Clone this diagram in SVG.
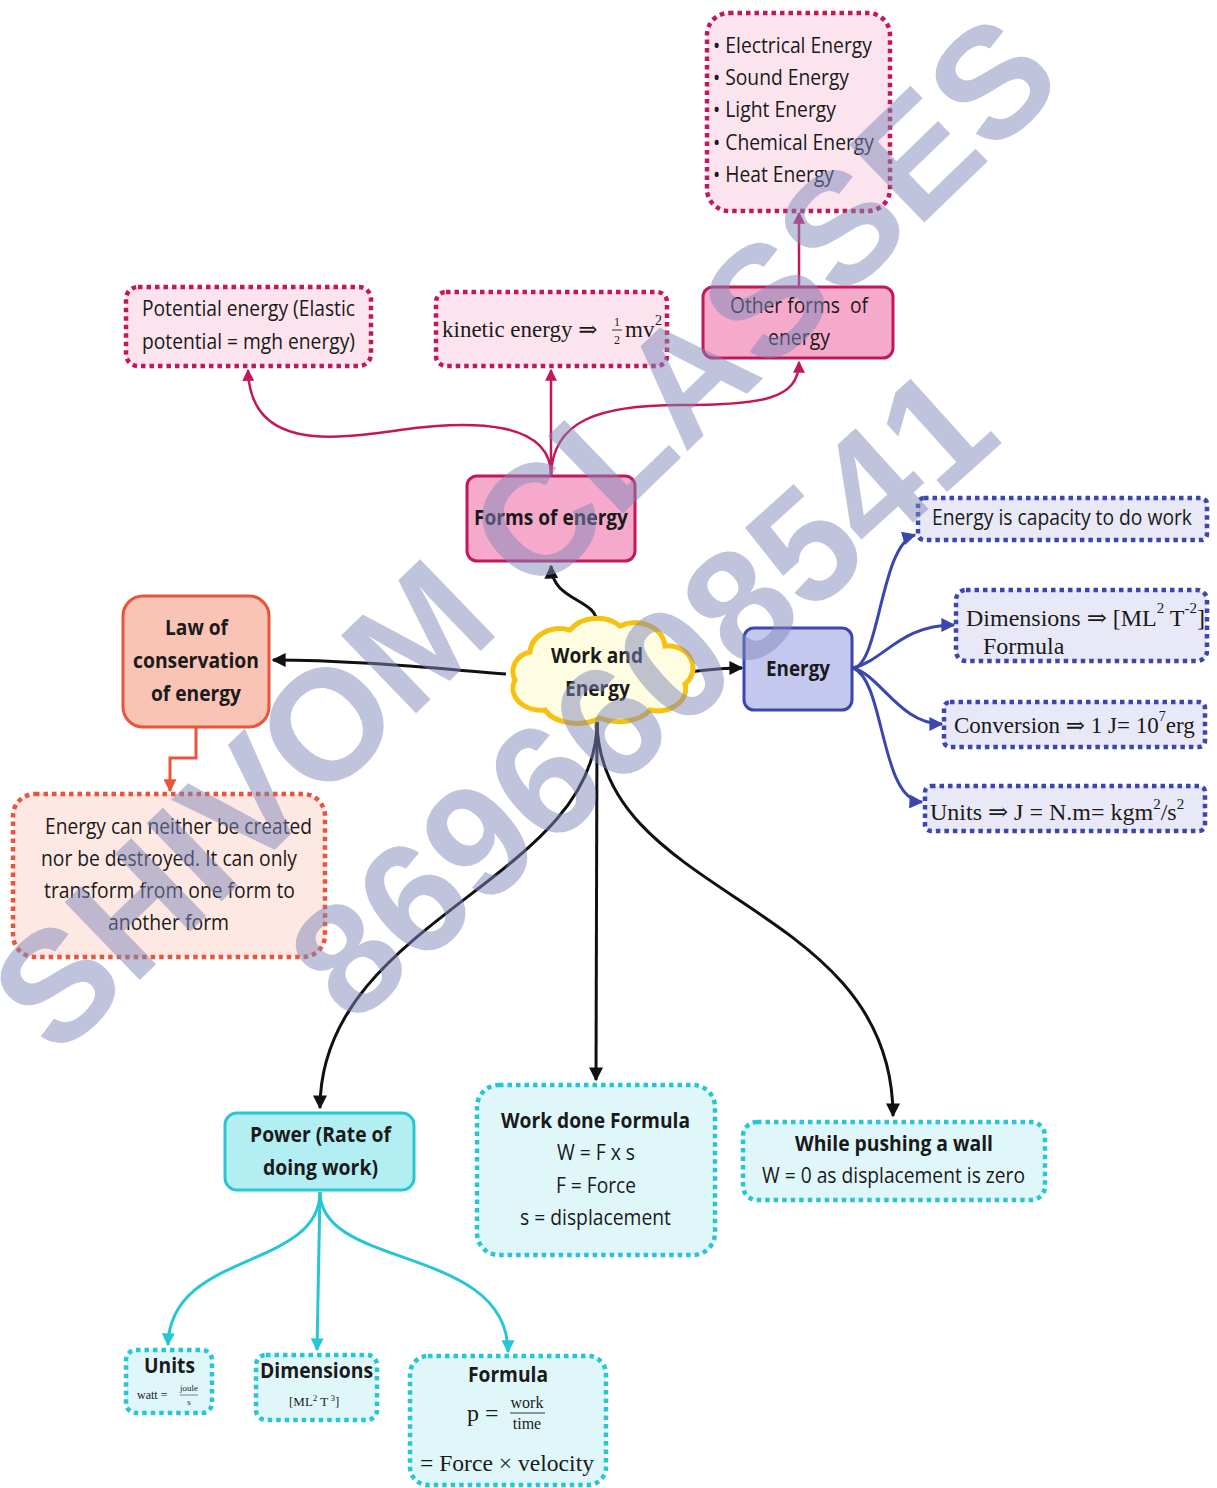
<svg xmlns="http://www.w3.org/2000/svg" width="1217" height="1488" viewBox="0 0 1217 1488">
<style>
.sans{font-family:"Open Sans","Noto Sans","DejaVu Sans",sans-serif;fill:#1a1a1a}
.b{font-weight:700}
.serif{font-family:"Liberation Serif","DejaVu Serif",serif;fill:#1a1a1a}
.dotP{fill:#fce4ee;stroke:#c2185b;stroke-width:4.5;stroke-dasharray:4.5 4}
.solidP{fill:#f5a9cb;stroke:#c2185b;stroke-width:3}
.dotO{fill:#fde8e3;stroke:#e8553a;stroke-width:4.5;stroke-dasharray:4.5 4}
.solidO{fill:#f9c3b6;stroke:#e8553a;stroke-width:3}
.dotB{fill:#e8e8f6;stroke:#3b47ad;stroke-width:4.5;stroke-dasharray:4.5 4}
.solidB{fill:#c5c8ee;stroke:#3b47ad;stroke-width:3}
.dotC{fill:#e0f7fa;stroke:#26c6d4;stroke-width:4.5;stroke-dasharray:4.5 4}
.solidC{fill:#b3eef3;stroke:#26c6d4;stroke-width:3}
.cP{fill:none;stroke:#c2185b;stroke-width:2.5;marker-end:url(#aP)}
.cK{fill:none;stroke:#111;stroke-width:3;marker-end:url(#aK)}
.cO{fill:none;stroke:#e8553a;stroke-width:3;marker-end:url(#aO)}
.cB{fill:none;stroke:#3b47ad;stroke-width:3;marker-end:url(#aB)}
.cC{fill:none;stroke:#26c6d4;stroke-width:3;marker-end:url(#aC)}
.wm{font-family:"Liberation Sans","DejaVu Sans",sans-serif;font-weight:700;fill:#8088bb;opacity:0.5}
</style>
<defs>
<marker id="aP" viewBox="0 0 10 10" refX="9" refY="5" markerWidth="12" markerHeight="12" markerUnits="userSpaceOnUse" orient="auto"><path d="M0,0 L10,5 L0,10 z" fill="#c2185b"/></marker>
<marker id="aK" viewBox="0 0 10 10" refX="9" refY="5" markerWidth="14" markerHeight="14" markerUnits="userSpaceOnUse" orient="auto"><path d="M0,0 L10,5 L0,10 z" fill="#111"/></marker>
<marker id="aO" viewBox="0 0 10 10" refX="9" refY="5" markerWidth="13" markerHeight="13" markerUnits="userSpaceOnUse" orient="auto"><path d="M0,0 L10,5 L0,10 z" fill="#e8553a"/></marker>
<marker id="aB" viewBox="0 0 10 10" refX="9" refY="5" markerWidth="14" markerHeight="14" markerUnits="userSpaceOnUse" orient="auto"><path d="M0,0 L10,5 L0,10 z" fill="#3b47ad"/></marker>
<marker id="aC" viewBox="0 0 10 10" refX="9" refY="5" markerWidth="13" markerHeight="13" markerUnits="userSpaceOnUse" orient="auto"><path d="M0,0 L10,5 L0,10 z" fill="#26c6d4"/></marker>
</defs>
<rect width="1217" height="1488" fill="#ffffff"/>

<g id="connectors">
<path class="cP" d="M551,476 C552,420 470,420 400,430 C330,440 250,450 248,370"/>
<path class="cP" d="M551,476 L551,370"/>
<path class="cP" d="M551,476 C552,420 600,405 680,405 C760,405 799,400 799,362"/>
<path class="cP" d="M799,287 L799,213"/>
<path class="cK" d="M597,624 C598,598 552,602 551,566"/>
<path class="cK" d="M506,674 C430,668 350,660 273,660"/>
<path class="cK" d="M688,672 C710,670 720,668 742,668"/>
<path class="cK" d="M597,722 C597,880 320,920 320,1108"/>
<path class="cK" d="M597,722 L596,1080"/>
<path class="cK" d="M597,722 C600,900 893,900 893,1116"/>
<path class="cO" d="M196,728 L196,758 L170,758 L170,791"/>
<path class="cB" d="M853,668 C880,665 880,545 915,535"/>
<path class="cB" d="M853,668 C885,660 900,625 954,625"/>
<path class="cB" d="M853,668 C880,675 900,724 942,724"/>
<path class="cB" d="M853,668 C885,680 880,800 922,802"/>
<path class="cC" d="M320,1192 C320,1270 170,1250 168,1345"/>
<path class="cC" d="M320,1192 L317,1350"/>
<path class="cC" d="M320,1192 C320,1270 508,1245 508,1352"/>
</g>

<g id="other-forms-list">
<rect class="dotP" x="707" y="13" width="183" height="198" rx="22"/>
<text class="sans" font-size="22" x="713" y="53" textLength="159" lengthAdjust="spacingAndGlyphs">• Electrical Energy</text>
<text class="sans" font-size="22" x="713" y="85" textLength="136" lengthAdjust="spacingAndGlyphs">• Sound Energy</text>
<text class="sans" font-size="22" x="713" y="117" textLength="123" lengthAdjust="spacingAndGlyphs">• Light Energy</text>
<text class="sans" font-size="22" x="713" y="150" textLength="161" lengthAdjust="spacingAndGlyphs">• Chemical Energy</text>
<text class="sans" font-size="22" x="713" y="182" textLength="121" lengthAdjust="spacingAndGlyphs">• Heat Energy</text>
</g>

<g id="potential-energy">
<rect class="dotP" x="126" y="287" width="245" height="79" rx="12"/>
<text class="sans" font-size="22" x="142" y="316" textLength="213" lengthAdjust="spacingAndGlyphs">Potential energy (Elastic</text>
<text class="sans" font-size="22" x="142" y="349" textLength="213" lengthAdjust="spacingAndGlyphs">potential = mgh energy)</text>
</g>

<g id="kinetic-energy">
<rect class="dotP" x="436" y="292" width="231" height="74" rx="10"/>
<text class="serif" font-size="23" x="442" y="337" fill="#333">kinetic energy ⇒</text>
<text class="serif" font-size="12" x="617" y="326" text-anchor="middle">1</text>
<line x1="612" y1="330" x2="622" y2="330" stroke="#333" stroke-width="1"/>
<text class="serif" font-size="12" x="617" y="344" text-anchor="middle">2</text>
<text class="serif" font-size="23" x="625" y="337">mv</text>
<text class="serif" font-size="14" x="655" y="325">2</text>
</g>

<g id="other-forms">
<rect class="solidP" x="703" y="287" width="190" height="71" rx="10"/>
<text class="sans" font-size="22" x="730" y="313" textLength="138" lengthAdjust="spacingAndGlyphs">Other forms&#160; of</text>
<text class="sans" font-size="22" x="768" y="345" textLength="62" lengthAdjust="spacingAndGlyphs">energy</text>
</g>

<g id="forms-of-energy">
<rect class="solidP" x="467" y="476" width="168" height="85" rx="10"/>
<text class="sans b" font-size="22" x="474" y="525" textLength="154" lengthAdjust="spacingAndGlyphs">Forms of energy</text>
</g>

<g id="work-and-energy">
<path d="M530,652 a30,25 0 0 1 40,-22 a32,25 0 0 1 50,-4 a30,25 0 0 1 45,20 a25,22 0 0 1 20,38 a28,22 0 0 1 -35,26 a35,22 0 0 1 -50,8 a35,22 0 0 1 -55,-8 a28,22 0 0 1 -30,-30 a22,20 0 0 1 15,-28 z" fill="#fffde1" stroke="#f5c211" stroke-width="5"/>
<text class="sans b" font-size="22" x="551" y="663" textLength="92" lengthAdjust="spacingAndGlyphs">Work and</text>
<text class="sans b" font-size="22" x="565" y="696" textLength="65" lengthAdjust="spacingAndGlyphs">Energy</text>
</g>

<g id="law-of-conservation">
<rect class="solidO" x="123" y="596" width="146" height="131" rx="20"/>
<text class="sans b" font-size="22" x="165" y="635" textLength="63" lengthAdjust="spacingAndGlyphs">Law of</text>
<text class="sans b" font-size="22" x="133" y="668" textLength="126" lengthAdjust="spacingAndGlyphs">conservation</text>
<text class="sans b" font-size="22" x="151" y="701" textLength="90" lengthAdjust="spacingAndGlyphs">of energy</text>
</g>

<g id="conservation-statement">
<rect class="dotO" x="13" y="794" width="312" height="163" rx="22"/>
<text class="sans" font-size="22" x="45" y="834" textLength="267" lengthAdjust="spacingAndGlyphs">Energy can neither be created</text>
<text class="sans" font-size="22" x="41" y="866" textLength="256" lengthAdjust="spacingAndGlyphs">nor be destroyed. It can only</text>
<text class="sans" font-size="22" x="44" y="898" textLength="251" lengthAdjust="spacingAndGlyphs">transform from one form to</text>
<text class="sans" font-size="22" x="108" y="930" textLength="121" lengthAdjust="spacingAndGlyphs">another form</text>
</g>

<g id="energy">
<rect class="solidB" x="744" y="628" width="108" height="82" rx="10"/>
<text class="sans b" font-size="22" x="766" y="676" textLength="64" lengthAdjust="spacingAndGlyphs">Energy</text>
</g>

<g id="energy-definition">
<rect class="dotB" x="918" y="498" width="289" height="42" rx="6"/>
<text class="sans" font-size="22" x="932" y="525" textLength="260" lengthAdjust="spacingAndGlyphs">Energy is capacity to do work</text>
</g>

<g id="energy-dimensions">
<rect class="dotB" x="956" y="590" width="251" height="71" rx="10"/>
<text class="serif" font-size="24" x="966" y="626">Dimensions ⇒ [ML<tspan dy="-13" font-size="15">2</tspan><tspan dy="13"> T</tspan><tspan dy="-13" font-size="15">-2</tspan><tspan dy="13">]</tspan></text>
<text class="serif" font-size="24" x="983" y="654">Formula</text>
</g>

<g id="energy-conversion">
<rect class="dotB" x="944" y="702" width="261" height="45" rx="6"/>
<text class="serif" font-size="23" x="954" y="733">Conversion ⇒ 1 J= 10<tspan dy="-12" font-size="14">7</tspan><tspan dy="12">erg</tspan></text>
</g>

<g id="energy-units">
<rect class="dotB" x="925" y="786" width="280" height="45" rx="6"/>
<text class="serif" font-size="24" x="930" y="820">Units ⇒ J = N.m= kgm<tspan dy="-11" font-size="15">2</tspan><tspan dy="11">/s</tspan><tspan dy="-11" font-size="15">2</tspan></text>
</g>

<g id="power">
<rect class="solidC" x="225" y="1113" width="189" height="77" rx="12"/>
<text class="sans b" font-size="22" x="250" y="1142" textLength="141" lengthAdjust="spacingAndGlyphs">Power (Rate of</text>
<text class="sans b" font-size="22" x="263" y="1175" textLength="115" lengthAdjust="spacingAndGlyphs">doing work)</text>
</g>

<g id="work-done-formula">
<rect class="dotC" x="477" y="1085" width="238" height="170" rx="22"/>
<text class="sans b" font-size="22" x="501" y="1128" textLength="189" lengthAdjust="spacingAndGlyphs">Work done Formula</text>
<text class="sans" font-size="22" x="557" y="1160" textLength="78" lengthAdjust="spacingAndGlyphs">W = F x s</text>
<text class="sans" font-size="22" x="556" y="1193" textLength="80" lengthAdjust="spacingAndGlyphs">F = Force</text>
<text class="sans" font-size="22" x="520" y="1225" textLength="151" lengthAdjust="spacingAndGlyphs">s = displacement</text>
</g>

<g id="pushing-wall">
<rect class="dotC" x="743" y="1122" width="302" height="78" rx="14"/>
<text class="sans b" font-size="22" x="795" y="1151" textLength="198" lengthAdjust="spacingAndGlyphs">While pushing a wall</text>
<text class="sans" font-size="22" x="762" y="1183" textLength="263" lengthAdjust="spacingAndGlyphs">W = 0 as displacement is zero</text>
</g>

<g id="power-units">
<rect class="dotC" x="126" y="1350" width="86" height="63" rx="10"/>
<text class="sans b" font-size="22" x="144" y="1373" textLength="51" lengthAdjust="spacingAndGlyphs">Units</text>
<text class="serif" font-size="12" x="137" y="1399" fill="#444">watt =</text>
<text class="serif" font-size="9" x="189" y="1391" text-anchor="middle" fill="#444">joule</text>
<line x1="180" y1="1395" x2="198" y2="1395" stroke="#666" stroke-width="0.8"/>
<text class="serif" font-size="9" x="189" y="1405" text-anchor="middle" fill="#444">s</text>
</g>

<g id="power-dimensions">
<rect class="dotC" x="256" y="1355" width="121" height="65" rx="10"/>
<text class="sans b" font-size="22" x="260" y="1378" textLength="113" lengthAdjust="spacingAndGlyphs">Dimensions</text>
<text class="serif" font-size="13" x="289" y="1406" fill="#555">[ML<tspan dy="-5" font-size="9">2</tspan><tspan dy="5"> T</tspan><tspan dy="-5" font-size="9"> 3</tspan><tspan dy="5">]</tspan></text>
</g>

<g id="power-formula">
<rect class="dotC" x="410" y="1356" width="196" height="129" rx="18"/>
<text class="sans b" font-size="22" x="468" y="1382" textLength="80" lengthAdjust="spacingAndGlyphs">Formula</text>
<text class="serif" font-size="24" x="467" y="1421">p =</text>
<text class="serif" font-size="16" x="527" y="1408" text-anchor="middle">work</text>
<line x1="510" y1="1413" x2="545" y2="1413" stroke="#333" stroke-width="1"/>
<text class="serif" font-size="16" x="527" y="1429" text-anchor="middle">time</text>
<text class="serif" font-size="24" x="420" y="1471" textLength="174" lengthAdjust="spacingAndGlyphs">= Force × velocity</text>
</g>

<g id="watermark">
<text class="wm" font-size="157" transform="translate(57,1060) rotate(-44)">SHIVOM CLASSES</text>
<text class="wm" font-size="158" transform="translate(352,1028) rotate(-42)">8696608541</text>
</g>
</svg>
